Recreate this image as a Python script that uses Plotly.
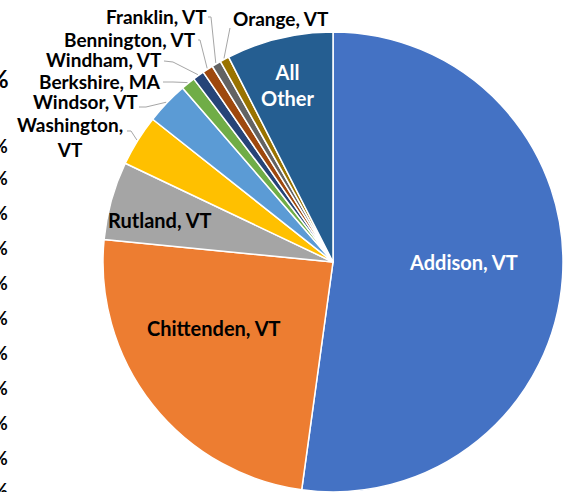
import math
import plotly.graph_objects as go

# ---- data ----
counties = ["Addison, VT", "Chittenden, VT", "Rutland, VT", "Washington, VT", "Windsor, VT",
            "Berkshire, MA", "Windham, VT", "Bennington, VT", "Franklin, VT", "Orange, VT", "All Other"]
shares = [52.2, 24.4, 5.5, 3.6, 3.0, 1.0, 0.8, 0.75, 0.65, 0.65, 7.5]
colors = ["#4472C4", "#ED7D31", "#A5A5A5", "#FFC000", "#5B9BD5", "#70AD47",
          "#264478", "#9E480E", "#636363", "#997300", "#255E91"]

W, H = 586, 492
CX, CY, R = 333, 262, 230

def px(x):
    return x / W

def py(y):
    return 1 - y / H

fig = go.Figure(go.Pie(
    labels=counties, values=shares, sort=False, direction="clockwise", rotation=0,
    marker=dict(colors=colors, line=dict(color="white", width=1.5)),
    textinfo="none", hoverinfo="label+percent",
    domain=dict(x=[px(CX - R), px(CX + R)], y=[0, py(CY - R)]),
    showlegend=False,
))

FONT = "Lato"
FS = 20
ann = []

def label(text, x, y, color="black", size=FS):
    ann.append(dict(text=text, x=px(x), y=py(y), xref="paper", yref="paper",
                    showarrow=False, xanchor="center", yanchor="middle",
                    font=dict(family=FONT, size=size, color=color, weight="bold")))

# inside labels
label("Addison, VT", 463, 262, "white")
label("Chittenden, VT", 214, 328)
label("Rutland, VT", 160, 220)
label("All<br>Other", 288, 85, "white")

# outside labels: (index, label center, leader start points)
outside = {
    8: ("Franklin, VT", (156, 17), [(208, 17), (211, 17)]),
    9: ("Orange, VT", (281, 18), [(230, 28)]),
    7: ("Bennington, VT", (130, 39.5), [(198, 40), (200, 40)]),
    6: ("Windham, VT", (104, 59.5), [(164, 61), (173, 62)]),
    5: ("Berkshire, MA", (100, 81), [(163, 82), (173, 82)]),
    4: ("Windsor, VT", (85, 102), [(139, 107), (146, 107)]),
    3: ("Washington,<br>VT", (70, 137), [(127, 131), (131, 131)]),
}

total = sum(shares)
cum = [0]
for v in shares:
    cum.append(cum[-1] + v)

shapes = []
for i, (txt, (lx, ly), pts) in outside.items():
    label(txt, lx, ly, size=19)
    mid = (cum[i] + shares[i] / 2) / total * 2 * math.pi
    ex = CX + (R + 1) * math.sin(mid)
    ey = CY - (R + 1) * math.cos(mid)
    allpts = pts + [(ex, ey)]
    path = "M " + " L ".join(f"{px(a):.5f},{py(b):.5f}" for a, b in allpts)
    shapes.append(dict(type="path", path=path, xref="paper", yref="paper",
                       line=dict(color="#A6A6A6", width=1)))

# cut-off percent tick labels of neighbouring chart at left edge
ann.append(dict(text="%", x=px(11), y=py(78), xref="paper", yref="paper", showarrow=False,
                xanchor="right", yanchor="middle",
                font=dict(family=FONT, size=24, color="black", weight="bold")))
for y in [146, 178, 213, 248, 283, 318, 353, 388, 423, 458, 490]:
    ann.append(dict(text="%", x=px(10), y=py(y), xref="paper", yref="paper", showarrow=False,
                    xanchor="right", yanchor="middle",
                    font=dict(family=FONT, size=18, color="black", weight="bold")))

fig.update_layout(
    width=W, height=H, margin=dict(l=0, r=0, t=0, b=0),
    paper_bgcolor="white", plot_bgcolor="white",
    annotations=ann, shapes=shapes,
)

fig.write_html("out.html", config={"displayModeBar": False},
               post_script="document.body.style.margin='0';document.body.style.overflow='hidden';")
